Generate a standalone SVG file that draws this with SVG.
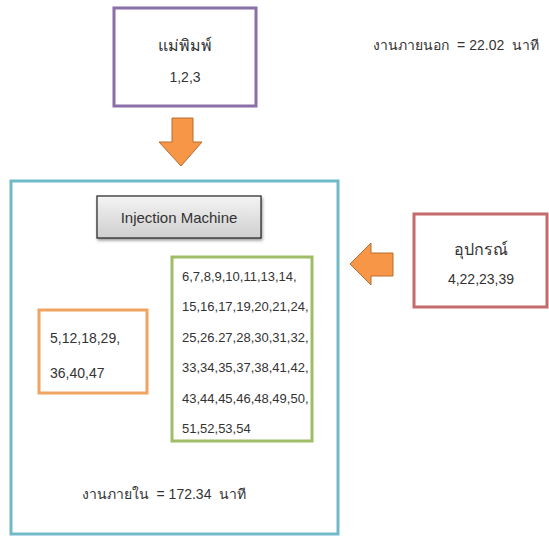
<svg xmlns="http://www.w3.org/2000/svg" width="549" height="536" viewBox="0 0 549 536">
<defs>
<linearGradient id="gray" x1="0" y1="0" x2="0" y2="1">
<stop offset="0" stop-color="#f4f4f4"/>
<stop offset="1" stop-color="#cfcfcf"/>
</linearGradient>
<filter id="sh" x="-10%" y="-10%" width="130%" height="140%">
<feDropShadow dx="1" dy="2" stdDeviation="1.5" flood-color="#000" flood-opacity="0.4"/>
</filter>
</defs>
<style>
text{font-family:"Liberation Sans","Noto Sans","DejaVu Sans",sans-serif;fill:#333;font-size:13px;white-space:pre}
.c{text-anchor:middle}
.th{font-size:16px}
.sum{font-size:14px}
.num{font-size:14px}
.box{fill:#fff;stroke-width:3}
.arrow{fill:#f79646;stroke:#b66d31;stroke-width:1}
</style>
<rect width="549" height="536" fill="#fff"/>
<g id="mold">
<rect class="box" x="114" y="8" width="142" height="98" stroke="#8a6fa8"/>
<text class="c th" x="185" y="51">แม่พิมพ์</text>
<text class="c num" x="185" y="82">1,2,3</text>
</g>
<g id="external">
<text class="sum" x="539" y="50" text-anchor="end">งานภายนอก  = 22.02  นาที</text>
</g>
<g id="machine-area">
<rect class="box" x="11" y="181" width="327" height="353" stroke="#6fb9c9"/>
</g>
<g id="injection">
<rect x="97" y="196" width="164" height="42" fill="url(#gray)" stroke="#222" stroke-width="1.2" filter="url(#sh)"/>
<text class="c" x="179" y="223" style="font-size:15px">Injection Machine</text>
</g>
<g id="equipment">
<rect class="box" x="414" y="214" width="133" height="93" stroke="#c56b6b"/>
<text class="c th" x="481" y="255">อุปกรณ์</text>
<text class="c num" x="481" y="284">4,22,23,39</text>
</g>
<g id="group-orange">
<rect class="box" x="39" y="310" width="108" height="83" stroke="#f0a461"/>
<text class="num" x="50" y="343">5,12,18,29,</text>
<text class="num" x="50" y="378">36,40,47</text>
</g>
<g id="group-green">
<rect class="box" x="172" y="257" width="140" height="184" stroke="#9fbd64"/>
<text x="182" y="281">6,7,8,9,10,11,13,14,</text>
<text x="182" y="311">15,16,17,19,20,21,24,</text>
<text x="182" y="342">25,26.27,28,30,31,32,</text>
<text x="182" y="372">33,34,35,37,38,41,42,</text>
<text x="182" y="403">43,44,45,46,48,49,50,</text>
<text x="182" y="433">51,52,53,54</text>
</g>
<g id="internal">
<text class="c sum" x="164" y="499">งานภายใน  = 172.34  นาที</text>
</g>
<g id="connectors">
<path class="arrow" d="M172,118 H193 V142 H202 L181,166 L159,142 H172 Z"/>
<path class="arrow" d="M393,253 V276 H371 V285 L350,264 L371,243 V253 Z"/>
</g>
</svg>
